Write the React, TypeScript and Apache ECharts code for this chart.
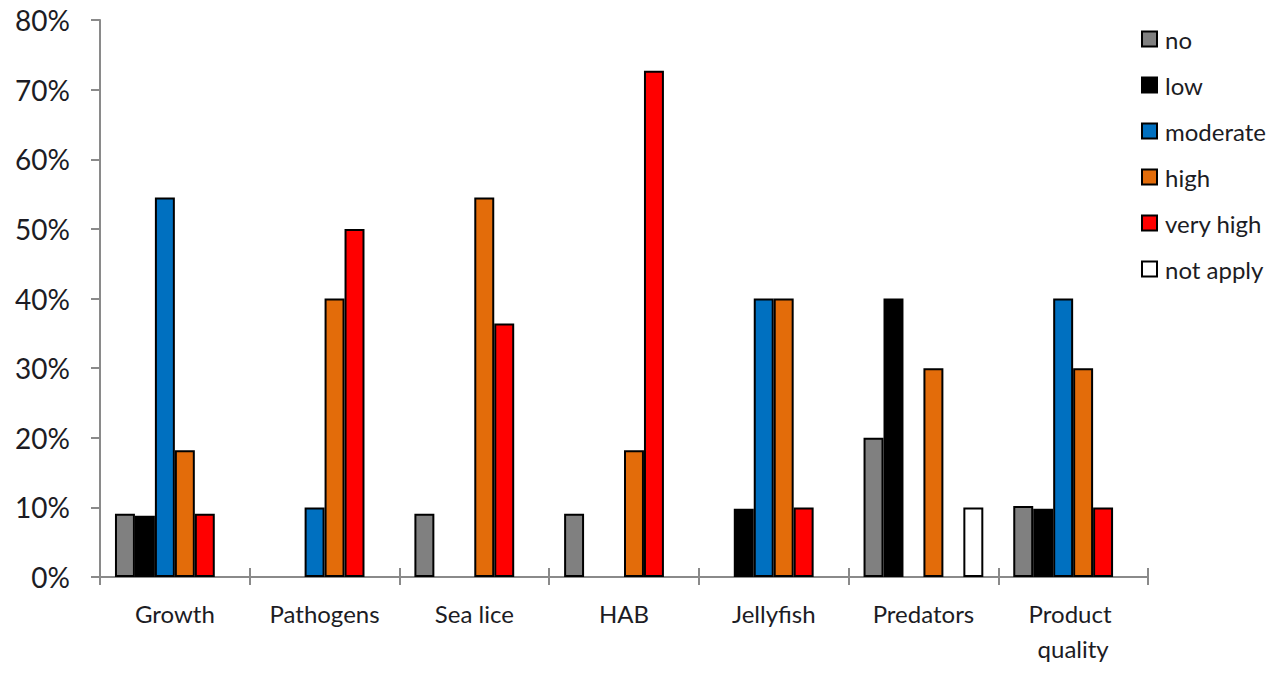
import React, { useEffect, useRef } from "react";
import * as echarts from "echarts";

const categories = ["Growth", "Pathogens", "Sea lice", "HAB", "Jellyfish", "Predators", "Product quality"];
const seriesNames = ["no", "low", "moderate", "high", "very high", "not apply"];
const noValues = [9.1, 0, 9.1, 9.1, 0, 20, 10.2];
const lowValues = [8.8, 0, 0, 0, 9.8, 40, 9.8];
const moderateValues = [54.5, 10, 0, 0, 40, 0, 40];
const highValues = [18.2, 40, 54.5, 18.2, 40, 30, 30];
const veryHighValues = [9.1, 50, 36.4, 72.7, 10, 0, 10];
const notApplyValues = [0, 0, 0, 0, 0, 10, 0];
const seriesColors = ["#808080", "#000000", "#0070C0", "#E36C0A", "#FF0000", "#FFFFFF"];
const yTicks = [0, 10, 20, 30, 40, 50, 60, 70, 80];

const FONT = "Lato";
const TEXT = "#1c1c24";
const AXIS = "#8a8a8a";

export default function App() {
  const ref = useRef<HTMLDivElement>(null);
  useEffect(() => {
    if (!ref.current) return;
    const chart = echarts.init(ref.current, undefined, { renderer: "svg" });
    const all = [noValues, lowValues, moderateValues, highValues, veryHighValues, notApplyValues];
    chart.setOption({
      animation: false,
      backgroundColor: "#ffffff",
      textStyle: { fontFamily: FONT },
      grid: { left: 100, right: 139, top: 20, bottom: 97 },
      legend: {
        orient: "vertical",
        left: 1141,
        top: 27,
        padding: 0,
        itemWidth: 15,
        itemHeight: 15,
        itemGap: 22,
        icon: "rect",
        data: seriesNames,
        textStyle: { fontFamily: FONT, fontSize: 24, color: TEXT, lineHeight: 24, padding: [0, 0, 0, 3] },
      },
      xAxis: [
        {
          type: "category",
          data: categories,
          axisLine: { show: true, lineStyle: { color: AXIS, width: 2 } },
          axisTick: { show: true, alignWithLabel: false, length: 8, lineStyle: { color: AXIS, width: 2 } },
          axisLabel: {
            fontFamily: FONT,
            fontSize: 24,
            color: TEXT,
            margin: 19,
            lineHeight: 35,
            interval: 0,
            width: 140,
            overflow: "break",
          },
        },
        {
          type: "category",
          data: categories,
          position: "bottom",
          axisLine: { show: false },
          axisTick: { show: true, inside: true, alignWithLabel: false, length: 9, lineStyle: { color: AXIS, width: 2 } },
          axisLabel: { show: false },
        },
      ],
      yAxis: {
        type: "value",
        min: 0,
        max: 80,
        interval: 10,
        splitLine: { show: false },
        axisLine: { show: true, lineStyle: { color: AXIS, width: 2 } },
        axisTick: { show: true, length: 9, lineStyle: { color: AXIS, width: 2 } },
        axisLabel: {
          fontFamily: FONT,
          fontSize: 28,
          color: TEXT,
          margin: 30,
          formatter: (v: number) => (yTicks.includes(v) ? `${v}%` : ""),
        },
      },
      series: seriesNames.map((name, i) => ({
        name,
        type: "bar",
        xAxisIndex: 0,
        barGap: "0%",
        barCategoryGap: "20%",
        data: all[i].map((v) => (v > 0 ? v : null)),
        itemStyle: { color: seriesColors[i], borderColor: "#000000", borderWidth: 2 },
      })),
    });
    return () => chart.dispose();
  }, []);
  return (
    <div
      ref={ref}
      style={{ position: "fixed", left: 0, top: 0, width: 1287, height: 674, background: "#fff" }}
    />
  );
}
